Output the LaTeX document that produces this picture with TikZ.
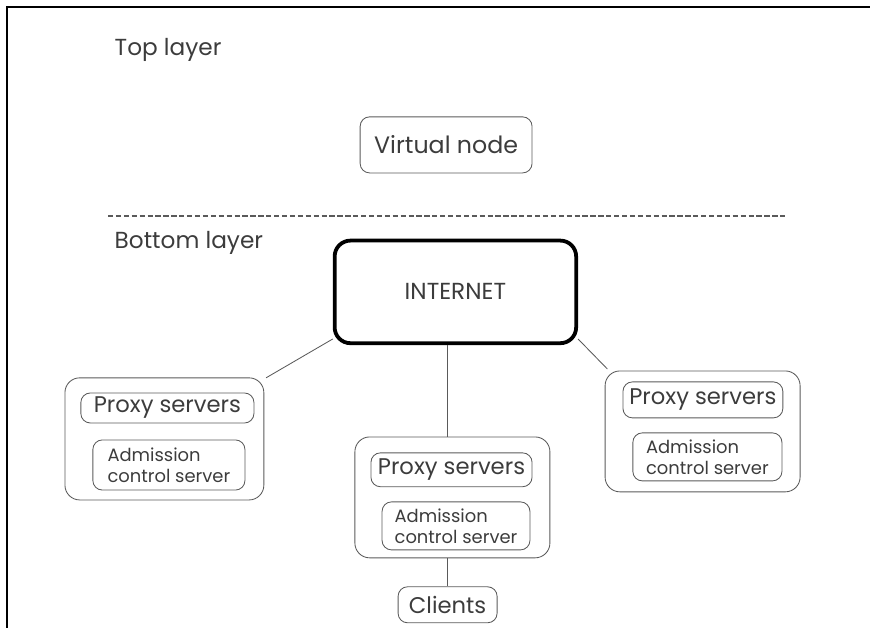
\documentclass[tikz,border=0pt]{standalone}
\usepackage{fontspec}
\setmainfont{Poppins}
\usetikzlibrary{positioning}
\definecolor{txtgray}{HTML}{3C3C3C}
\definecolor{boxgray}{HTML}{5A5A5A}
\begin{document}
\begin{tikzpicture}[
        x=1cm, y=1cm,
        font=\fontsize{21.5}{24}\selectfont, text=txtgray,
        layer/.style={anchor=west, font=\fontsize{22}{26}\selectfont},
        pill/.style={draw=boxgray, line width=0.8pt, rounded corners=9pt, inner sep=0pt, align=center},
        group/.style={draw=boxgray, line width=0.8pt, rounded corners=14pt, inner sep=0pt},
        admit/.style={pill, align=left, font=\fontsize{17}{20}\selectfont},
        cloud/.style={draw=black, line width=3.6pt, rounded corners=15pt, inner sep=0pt, align=center},
        link/.style={draw=boxgray, line width=0.8pt}
    ]

    \useasboundingbox (0,0) rectangle (29,20.93);

    % Frame
    \draw[line width=2pt] (0.23,0) -- (0.23,20.7) -- (29,20.7);

    % Layer titles
    \node[layer] (top) at (3.7,19.27) {Top layer};
    \node[layer] (bottom) at (3.7,12.83) {Bottom layer};

    % Virtual node
    \node[pill, minimum width=5.73cm, minimum height=1.87cm, font=\fontsize{22.5}{26}\selectfont] (virt) at (14.87,16.1) {Virtual node};

    % Layer border
    \draw[boxgray, line width=1pt, dash pattern=on 5pt off 2.5pt] (3.6,13.73) -- (26.23,13.73);

    % INTERNET
    \node[cloud, minimum width=8.05cm, minimum height=3.42cm, font=\fontsize{22}{26}\selectfont] (inet) at (15.18,11.2) {INTERNET};

    % Left site
    \node[group, minimum width=6.63cm, minimum height=4.07cm] (lsite) at (5.48,6.3) {};
    \node[pill, minimum width=5.77cm, minimum height=1cm] (lproxy) at (5.58,7.33) {Proxy servers};
    \node[admit, minimum width=5.07cm, minimum height=1.67cm] (ladmit) at (5.63,5.43) {Admission\\control server};

    % Middle site
    \node[group, minimum width=6.5cm, minimum height=4.03cm] (msite) at (15.08,4.35) {};
    \node[pill, minimum width=5.37cm, minimum height=1.13cm] (mproxy) at (15.05,5.27) {Proxy servers};
    \node[admit, minimum width=4.93cm, minimum height=1.6cm] (madmit) at (15.2,3.4) {Admission\\control server};

    % Right site
    \node[group, minimum width=6.5cm, minimum height=4.03cm] (rsite) at (23.42,6.55) {};
    \node[pill, minimum width=5.33cm, minimum height=1.2cm] (rproxy) at (23.43,7.6) {Proxy servers};
    \node[admit, minimum width=4.97cm, minimum height=1.6cm] (radmit) at (23.58,5.7) {Admission\\control server};

    % Clients
    \node[pill, minimum width=3.3cm, minimum height=1.2cm] (clients) at (14.92,0.77) {Clients};

    % Links
    \draw[link, shorten >=2pt] (inet.201) -- (lsite.31);
    \draw[link, shorten >=2pt] (inet.339) -- (rsite.147);
    \draw[link] (inet.south -| clients.north) -- (msite.north -| clients.north);
    \draw[link] (msite.south -| clients.north) -- (clients.north);

\end{tikzpicture}
\end{document}
